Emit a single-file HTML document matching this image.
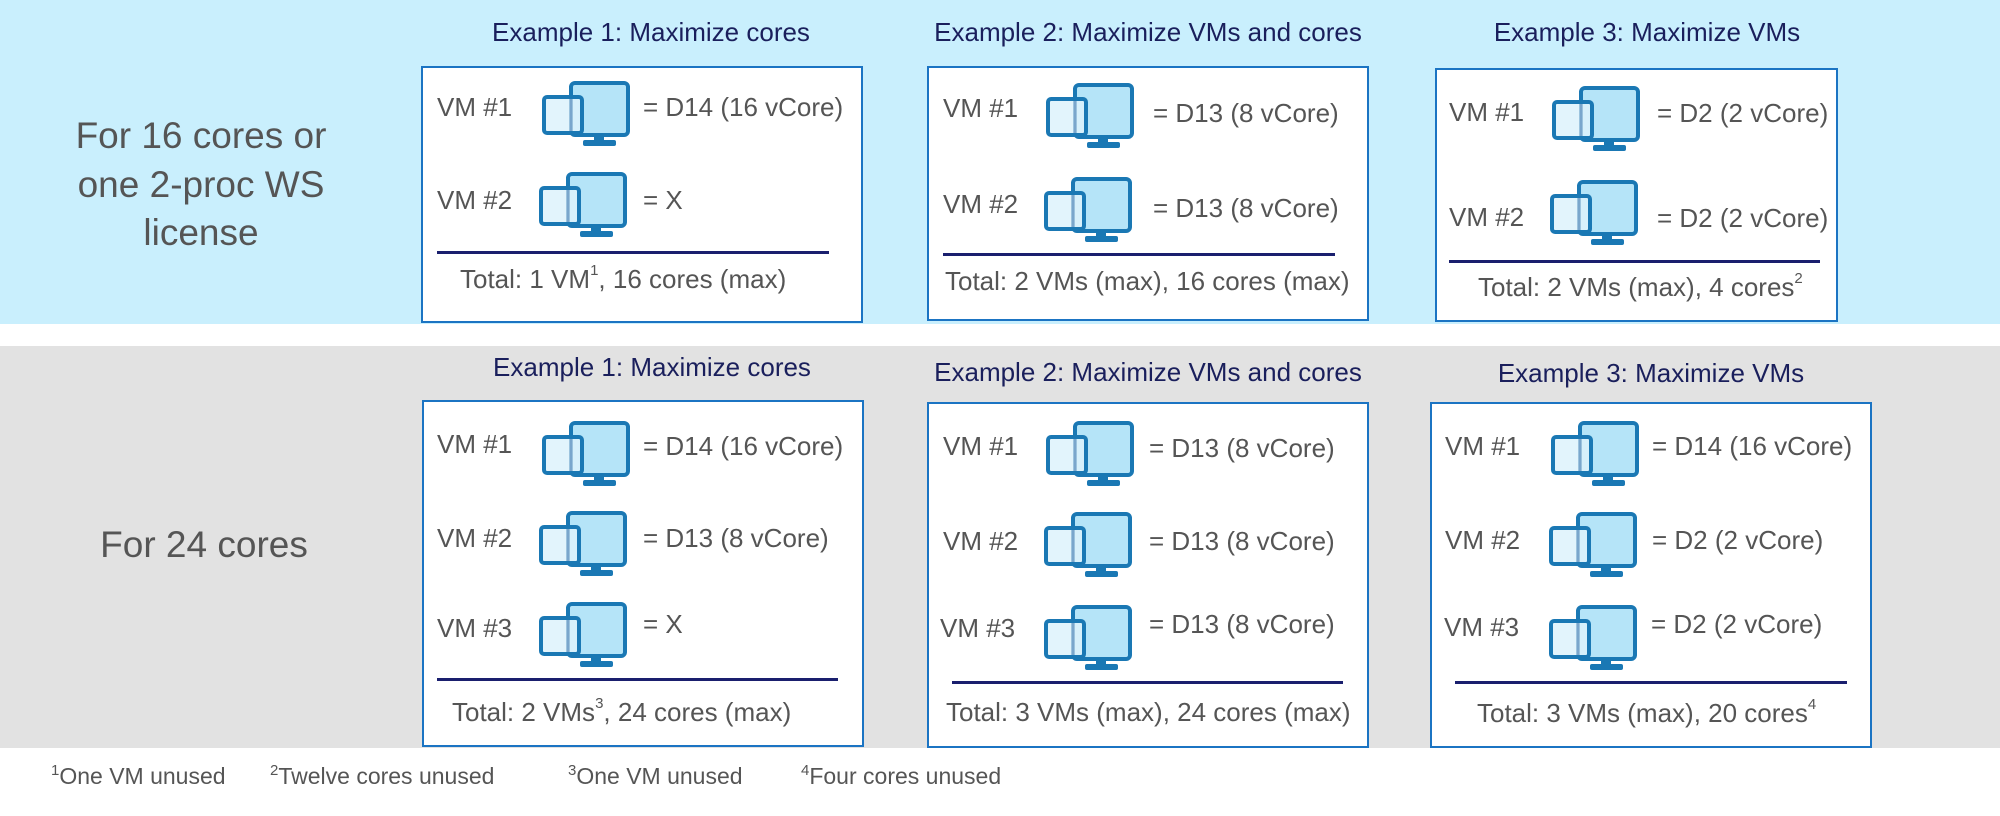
<!DOCTYPE html>
<html><head><meta charset="utf-8"><style>
body{margin:0;width:2000px;height:816px;position:relative;overflow:hidden;background:#fff;font-family:"Liberation Sans",sans-serif;}
.band{position:absolute;left:0;width:2000px}
.box{position:absolute;background:#fff;border:2px solid #1b74c3;box-sizing:border-box}
.t{position:absolute;white-space:nowrap;line-height:36px;height:36px;color:#555;font-size:26px}
.ti{position:absolute;white-space:nowrap;line-height:36px;color:#1a1f5c;font-size:26px;text-align:center;transform:translateX(-50%)}
.lbl{position:absolute;white-space:nowrap;color:#555;font-size:37px;line-height:48px;text-align:center;transform:translateX(-50%)}
.ln{position:absolute;height:3px;background:#1a1f6e}
svg.ic{position:absolute;width:90px;height:66px}
sup{font-size:15px;vertical-align:top;line-height:20px}
.fn{position:absolute;font-size:23px;color:#555;white-space:nowrap;line-height:30px}
</style></head><body>
<svg width="0" height="0" style="position:absolute"><defs>
<g id="m"><rect x="30" y="2" width="57" height="52" rx="4" fill="#b5e4f8" stroke="#1a78b4" stroke-width="4"/>
<rect x="53" y="54" width="10" height="5" fill="#1a78b4"/><rect x="42" y="59" width="33" height="6" rx="2" fill="#1a78b4"/>
<rect x="3" y="16" width="38" height="36" rx="3" fill="#ddf2fc" fill-opacity="0.85" stroke="#1a78b4" stroke-width="4"/>
<line x1="30" y1="18" x2="30" y2="50" stroke="#7aa6cc" stroke-width="3"/></g></defs></svg>

<div class="band" style="top:0;height:324px;background:#c9effd"></div>
<div class="band" style="top:346px;height:402px;background:#e2e2e2"></div>

<div class="lbl" style="left:201px;top:112px">For 16 cores or</div>
<div class="lbl" style="left:201px;top:161px">one 2-proc WS</div>
<div class="lbl" style="left:201px;top:209px">license</div>
<div class="lbl" style="left:204px;top:521px">For 24 cores</div>

<div class="ti" style="left:651px;top:14px">Example 1: Maximize cores</div>
<div class="ti" style="left:1148px;top:14px">Example 2: Maximize VMs and cores</div>
<div class="ti" style="left:1647px;top:14px">Example 3: Maximize VMs</div>
<div class="ti" style="left:652px;top:349px">Example 1: Maximize cores</div>
<div class="ti" style="left:1148px;top:354px">Example 2: Maximize VMs and cores</div>
<div class="ti" style="left:1651px;top:355px">Example 3: Maximize VMs</div>

<div class="box" style="left:421px;top:66px;width:442px;height:257px"></div>
<div class="box" style="left:927px;top:66px;width:442px;height:255px"></div>
<div class="box" style="left:1435px;top:68px;width:403px;height:254px"></div>
<div class="box" style="left:422px;top:400px;width:442px;height:347px"></div>
<div class="box" style="left:927px;top:402px;width:442px;height:346px"></div>
<div class="box" style="left:1430px;top:402px;width:442px;height:346px"></div>

<div class="t" style="left:437px;top:89px">VM #1</div><svg class="ic" style="left:541px;top:81px" viewBox="0 0 90 66"><use href="#m"/></svg><div class="t" style="left:643px;top:89px">= D14 (16 vCore)</div>
<div class="t" style="left:437px;top:182px">VM #2</div><svg class="ic" style="left:538px;top:172px" viewBox="0 0 90 66"><use href="#m"/></svg><div class="t" style="left:643px;top:182px">= X</div>
<div class="ln" style="left:437px;top:251px;width:392px"></div>
<div class="t" style="left:460px;top:261px">Total: 1 VM<sup>1</sup>, 16 cores (max)</div>

<div class="t" style="left:943px;top:90px">VM #1</div><svg class="ic" style="left:1045px;top:83px" viewBox="0 0 90 66"><use href="#m"/></svg><div class="t" style="left:1153px;top:95px">= D13 (8 vCore)</div>
<div class="t" style="left:943px;top:186px">VM #2</div><svg class="ic" style="left:1043px;top:177px" viewBox="0 0 90 66"><use href="#m"/></svg><div class="t" style="left:1153px;top:190px">= D13 (8 vCore)</div>
<div class="ln" style="left:943px;top:253px;width:392px"></div>
<div class="t" style="left:945px;top:263px">Total: 2 VMs (max), 16 cores (max)</div>

<div class="t" style="left:1449px;top:94px">VM #1</div><svg class="ic" style="left:1551px;top:86px" viewBox="0 0 90 66"><use href="#m"/></svg><div class="t" style="left:1657px;top:95px">= D2 (2 vCore)</div>
<div class="t" style="left:1449px;top:199px">VM #2</div><svg class="ic" style="left:1549px;top:180px" viewBox="0 0 90 66"><use href="#m"/></svg><div class="t" style="left:1657px;top:200px">= D2 (2 vCore)</div>
<div class="ln" style="left:1449px;top:260px;width:371px"></div>
<div class="t" style="left:1478px;top:269px">Total: 2 VMs (max), 4 cores<sup>2</sup></div>

<div class="t" style="left:437px;top:426px">VM #1</div><svg class="ic" style="left:541px;top:421px" viewBox="0 0 90 66"><use href="#m"/></svg><div class="t" style="left:643px;top:428px">= D14 (16 vCore)</div>
<div class="t" style="left:437px;top:520px">VM #2</div><svg class="ic" style="left:538px;top:511px" viewBox="0 0 90 66"><use href="#m"/></svg><div class="t" style="left:643px;top:520px">= D13 (8 vCore)</div>
<div class="t" style="left:437px;top:610px">VM #3</div><svg class="ic" style="left:538px;top:602px" viewBox="0 0 90 66"><use href="#m"/></svg><div class="t" style="left:643px;top:606px">= X</div>
<div class="ln" style="left:437px;top:678px;width:401px"></div>
<div class="t" style="left:452px;top:694px">Total: 2 VMs<sup>3</sup>, 24 cores (max)</div>

<div class="t" style="left:943px;top:428px">VM #1</div><svg class="ic" style="left:1045px;top:421px" viewBox="0 0 90 66"><use href="#m"/></svg><div class="t" style="left:1149px;top:430px">= D13 (8 vCore)</div>
<div class="t" style="left:943px;top:523px">VM #2</div><svg class="ic" style="left:1043px;top:512px" viewBox="0 0 90 66"><use href="#m"/></svg><div class="t" style="left:1149px;top:523px">= D13 (8 vCore)</div>
<div class="t" style="left:940px;top:610px">VM #3</div><svg class="ic" style="left:1043px;top:605px" viewBox="0 0 90 66"><use href="#m"/></svg><div class="t" style="left:1149px;top:606px">= D13 (8 vCore)</div>
<div class="ln" style="left:952px;top:681px;width:391px"></div>
<div class="t" style="left:946px;top:694px">Total: 3 VMs (max), 24 cores (max)</div>

<div class="t" style="left:1445px;top:428px">VM #1</div><svg class="ic" style="left:1550px;top:421px" viewBox="0 0 90 66"><use href="#m"/></svg><div class="t" style="left:1652px;top:428px">= D14 (16 vCore)</div>
<div class="t" style="left:1445px;top:522px">VM #2</div><svg class="ic" style="left:1548px;top:512px" viewBox="0 0 90 66"><use href="#m"/></svg><div class="t" style="left:1652px;top:522px">= D2 (2 vCore)</div>
<div class="t" style="left:1444px;top:609px">VM #3</div><svg class="ic" style="left:1548px;top:605px" viewBox="0 0 90 66"><use href="#m"/></svg><div class="t" style="left:1651px;top:606px">= D2 (2 vCore)</div>
<div class="ln" style="left:1455px;top:681px;width:392px"></div>
<div class="t" style="left:1477px;top:695px">Total: 3 VMs (max), 20 cores<sup>4</sup></div>

<div class="fn" style="left:51px;top:761px"><sup>1</sup>One VM unused</div>
<div class="fn" style="left:270px;top:761px"><sup>2</sup>Twelve cores unused</div>
<div class="fn" style="left:568px;top:761px"><sup>3</sup>One VM unused</div>
<div class="fn" style="left:801px;top:761px"><sup>4</sup>Four cores unused</div>
</body></html>
